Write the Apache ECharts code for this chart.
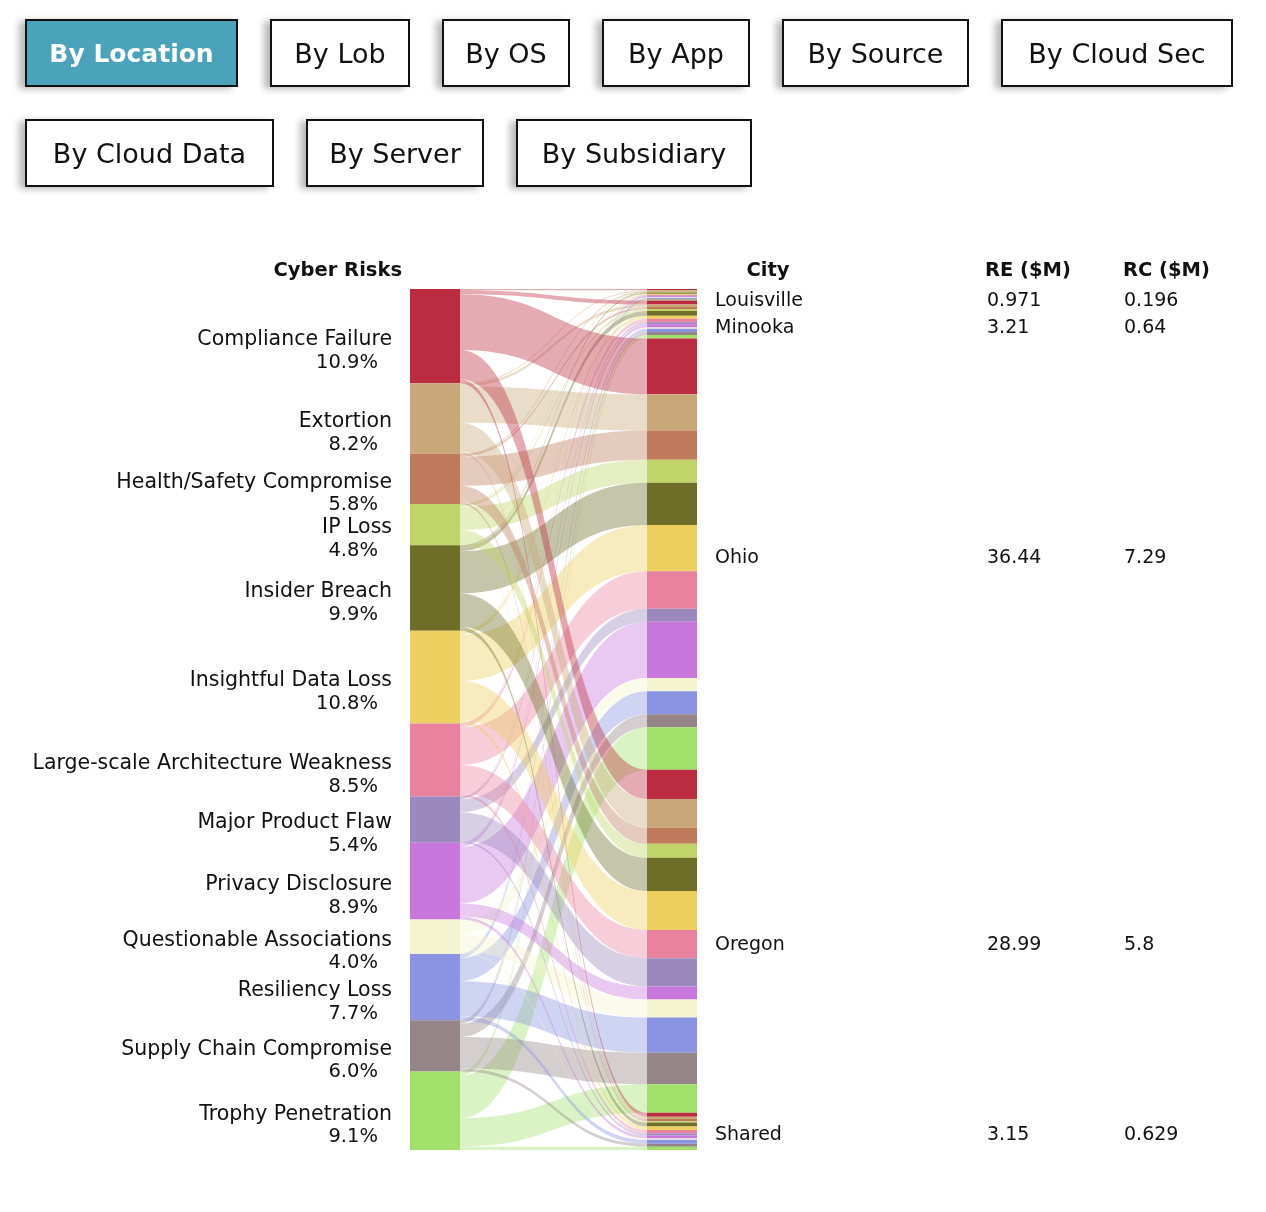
<!DOCTYPE html>
<html><head><meta charset="utf-8">
<script src="https://cdn.jsdelivr.net/npm/echarts@6/dist/echarts.min.js"></script>
<style>
html,body{margin:0;padding:0;background:#fff;}
#chart{position:absolute;left:0;top:0;width:1266px;height:1212px;}
.btn{position:absolute;box-sizing:border-box;border:2px solid #111;background:#fff;height:68px;display:flex;align-items:center;justify-content:center;font-family:'DejaVu Sans',sans-serif;font-size:27px;color:#111;box-shadow:-6px 2px 7px rgba(0,0,0,0.28);z-index:2}
.btn.active{background:#4aa3ba;color:#fff;font-weight:bold;font-size:25px}
</style></head><body>
<div id="chart"></div>
<script>
// ---- data ----
const buttonLabels = ['By Location','By Lob','By OS','By App','By Source','By Cloud Sec','By Cloud Data','By Server','By Subsidiary'];
const risks = ['Compliance Failure','Extortion','Health/Safety Compromise','IP Loss','Insider Breach','Insightful Data Loss','Large-scale Architecture Weakness','Major Product Flaw','Privacy Disclosure','Questionable Associations','Resiliency Loss','Supply Chain Compromise','Trophy Penetration'];
const cities = ['Louisville','Minooka','Ohio','Oregon','Shared'];
const reLouisville = [0.10,0.08,0.06,0.06,0.10,0.09,0.07,0.05,0.10,0.05,0.07,0.07,0.071];
const reMinooka    = [0.34,0.20,0.18,0.17,0.40,0.26,0.28,0.18,0.27,0.10,0.28,0.25,0.30];
const reOhio       = [4.72,3.06,2.46,1.95,3.57,3.91,3.16,1.10,4.76,1.12,1.95,1.10,3.58];
const reOregon     = [2.47,2.43,1.36,1.19,2.81,3.28,2.39,2.39,1.11,1.52,2.97,2.67,2.40];
const reShared     = [0.33,0.20,0.18,0.12,0.33,0.30,0.28,0.18,0.25,0.12,0.33,0.25,0.28];
const rcByCity     = [0.196,0.64,7.29,5.8,0.629];

// ---- styles / layout ----
const palette = ['#bc2c41','#c8a878','#bf7a5c','#c0d46a','#6e6e28','#eed060','#e8829f','#9b88bc','#c878dc','#f5f4d0','#8a94e2','#958488','#a2e06c'];
const buttonBoxes = [[25,19,213],[270,19,140],[442,19,128],[602,19,148],[782,19,187],[1001,19,232],[25,119,249],[306,119,178],[516,119,236]];
const FONT = "'DejaVu Sans', sans-serif";
const TOP = 289, HEIGHT = 861, LEFT = 410, WIDTH = 287;

buttonLabels.forEach((t,i)=>{
  const d = document.createElement('div');
  d.className = 'btn' + (i===0?' active':'');
  d.style.left = buttonBoxes[i][0]+'px'; d.style.top = buttonBoxes[i][1]+'px'; d.style.width = buttonBoxes[i][2]+'px';
  d.textContent = t;
  document.body.appendChild(d);
});

const cityValues = [reLouisville, reMinooka, reOhio, reOregon, reShared];
const grand = cityValues.reduce((s,a)=>s+a.reduce((x,y)=>x+y,0),0);
const riskTotals = risks.map((r,i)=>cityValues.reduce((s,a)=>s+a[i],0));

const nodes = risks.map((r,i)=>({name:r, itemStyle:{color:palette[i]}}));
const links = [];
cities.forEach((c,ci)=>{
  risks.forEach((r,i)=>{
    const nm = r + ' | ' + c;
    nodes.push({name:nm, itemStyle:{color:palette[i]}, label:{show:false}});
    links.push({source:r, target:nm, value:cityValues[ci][i]});
  });
});

const chart = echarts.init(document.getElementById('chart'), null, {renderer:'canvas'});
chart.setOption({
  animation:false,
  series:[{
    type:'sankey',
    left:LEFT, top:TOP, width:WIDTH, height:HEIGHT,
    nodeWidth:50, nodeGap:0, layoutIterations:0, draggable:false,
    emphasis:{disabled:true},
    data:nodes, links:links,
    itemStyle:{borderWidth:0},
    lineStyle:{color:'source', opacity:0.4, curveness:0.5},
    label:{
      show:true, position:'left', distance:18, offset:[0,15],
      formatter:(p)=>{
        const i = risks.indexOf(p.name);
        return '{n|'+p.name+'}\n{p|'+(riskTotals[i]/grand*100).toFixed(1)+'%}';
      },
      rich:{
        n:{fontFamily:FONT,fontSize:20.5,color:'#111',lineHeight:23,align:'right'},
        p:{fontFamily:FONT,fontSize:19.5,color:'#111',lineHeight:23,align:'right',padding:[0,14,0,0]}
      }
    }
  }]
});

// city labels positioned from the library's own node layout
const graph = chart.getModel().getSeriesByIndex(0).getGraph();
const g = [];
const hdr = {fontFamily:FONT,fontSize:19.5,fontWeight:'bold',fill:'#111'};
g.push({type:'text',x:402,y:271,style:Object.assign({text:'Cyber Risks',align:'right',verticalAlign:'middle'},hdr)});
g.push({type:'text',x:768,y:271,style:Object.assign({text:'City',align:'center',verticalAlign:'middle'},hdr)});
g.push({type:'text',x:985,y:271,style:Object.assign({text:'RE ($M)',align:'left',verticalAlign:'middle'},hdr)});
g.push({type:'text',x:1123,y:271,style:Object.assign({text:'RC ($M)',align:'left',verticalAlign:'middle'},hdr)});
let prevY = -1e9;
cities.forEach((c,ci)=>{
  const first = graph.getNodeByIndex(risks.length*(ci+1)).getLayout();
  const last = graph.getNodeByIndex(risks.length*(ci+2)-1).getLayout();
  let y = TOP + (first.y + last.y + last.dy)/2 + 4;
  y = Math.max(y, prevY + 27, TOP + 12);
  prevY = y;
  const re = cityValues[ci].reduce((a,b)=>a+b,0);
  const reTxt = re >= 10 ? re.toFixed(2) : String(Number(re.toPrecision(3)));
  const st = {fontFamily:FONT,fontSize:19,fill:'#111',align:'left',verticalAlign:'middle'};
  g.push({type:'text',x:715,y:y,style:Object.assign({text:c},st)});
  g.push({type:'text',x:987,y:y,style:Object.assign({text:reTxt},st)});
  g.push({type:'text',x:1124,y:y,style:Object.assign({text:String(rcByCity[ci])},st)});
});
chart.setOption({graphic:g});
</script>
</body></html>
